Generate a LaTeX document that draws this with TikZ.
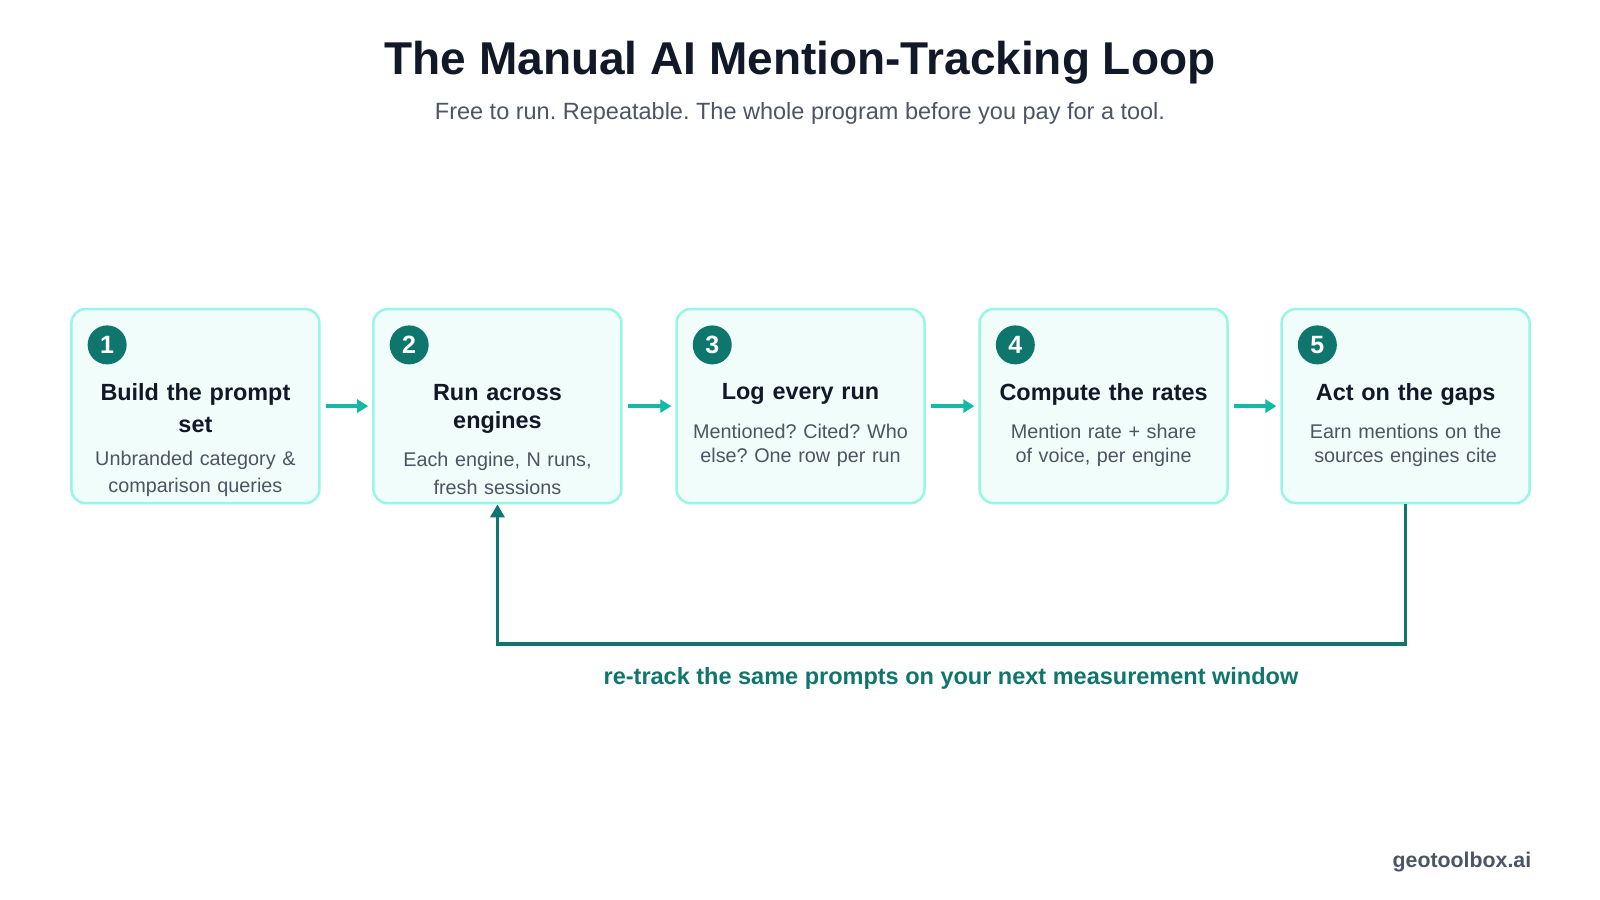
\documentclass[tikz,border=0pt]{standalone}
\usepackage{fontspec}
\setmainfont{Liberation Sans}
\frenchspacing
\usetikzlibrary{arrows.meta}
\definecolor{dark}{HTML}{111827}
\definecolor{gry}{HTML}{4B5563}
\definecolor{teal}{HTML}{14B8A6}
\definecolor{dteal}{HTML}{0F766E}
\definecolor{bfill}{HTML}{F0FDFA}
\definecolor{bdraw}{HTML}{99F6E4}
\begin{document}
\begin{tikzpicture}[x=1.0204pt,y=-1.0204pt,
 box/.style={draw=bdraw,line width=2.5pt,fill=bfill,rounded corners=14pt,minimum width=248pt,minimum height=194pt,inner sep=0pt},
 num/.style={circle,fill=dteal,text=white,minimum size=39pt,inner sep=0pt,font=\bfseries\fontsize{25}{25}\selectfont},
 ttl/.style={text=dark,font=\bfseries\fontsize{23.4}{32}\selectfont,align=center,text width=240pt},
 dsc/.style={text=gry,font=\fontsize{19.8}{26.5}\selectfont,align=center,text width=240pt},
 flow/.style={draw=teal,line width=3.5pt,-{Triangle[length=11pt,width=13pt]}},
 loop/.style={draw=dteal,line width=3.5pt,-{Triangle[length=13pt,width=14pt]}}]
\useasboundingbox (0,0) rectangle (1568,882);
\fill[white] (0,0) rectangle (1568,882);
\node[text=dark,font=\bfseries\fontsize{46}{46}\selectfont] (title) at (784,61) {The Manual AI Mention-Tracking Loop};
\node[text=gry,font=\fontsize{23.5}{23.5}\selectfont] (sub) at (784,111) {Free to run. Repeatable. The whole program before you pay for a tool.};
\foreach \i/\x in {1/191.5,2/487.5,3/784.5,4/1081.5,5/1377.5}{
 \node[box] (b\i) at (\x,398) {};
 \node[num] (n\i) at (\x-86.5,338) {\i};
}
\node[ttl] (t1) at (191.5,399.5) {Build the prompt\\set};
\node[dsc] (d1) at (191.5,464.5) {Unbranded category \&\\comparison queries};
\node[ttl,font=\bfseries\fontsize{23.4}{28}\selectfont] (t2) at (487.5,401) {Run across\\engines};
\node[dsc,font=\fontsize{19.8}{28}\selectfont] (d2) at (487.5,463.5) {Each engine, N runs,\\fresh sessions};
\node[ttl] (t3) at (784.5,386.5) {Log every run};
\node[dsc,font=\fontsize{19.8}{24}\selectfont] (d3) at (784.5,436.5) {Mentioned? Cited? Who\\else? One row per run};
\node[ttl] (t4) at (1081.5,386.5) {Compute the rates};
\node[dsc,font=\fontsize{19.8}{24}\selectfont] (d4) at (1081.5,436.5) {Mention rate + share\\of voice, per engine};
\node[ttl] (t5) at (1377.5,386.5) {Act on the gaps};
\node[dsc,font=\fontsize{19.8}{24}\selectfont] (d5) at (1377.5,436.5) {Earn mentions on the\\sources engines cite};
\foreach \a/\b in {1/2,2/3,3/4,4/5}{
 \draw[flow] ([xshift=5pt]b\a.east) -- ([xshift=-4pt]b\b.west);
}
\coordinate (c1) at (1377.5,631);
\coordinate (c2) at (487.5,631);
\draw[loop] (b5.south) -- (c1) -- (c2) -- (b2.south);
\node[text=dteal,font=\bfseries\fontsize{23.5}{23.5}\selectfont] (lbl) at (932,665) {re-track the same prompts on your next measurement window};
\node[text=gry,font=\bfseries\fontsize{21.3}{21.3}\selectfont,anchor=east] (ft) at (1504,845) {geotoolbox.ai};
\end{tikzpicture}
\end{document}
